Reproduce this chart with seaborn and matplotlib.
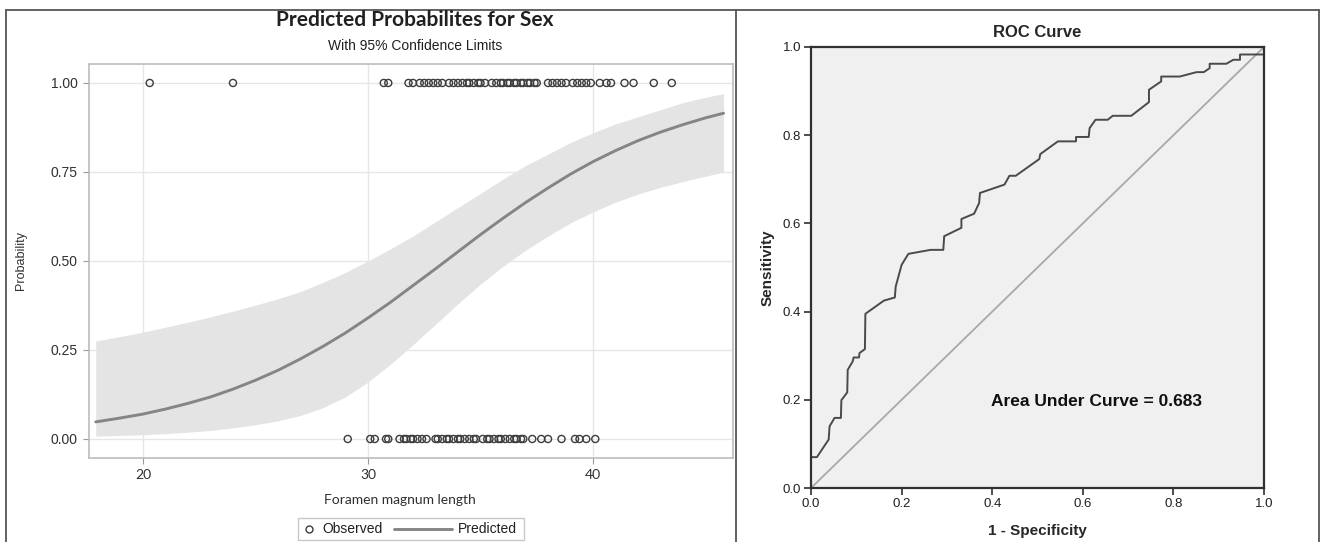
import numpy as np
import pandas as pd
import matplotlib
matplotlib.use("Agg")
import matplotlib.pyplot as plt
from matplotlib.lines import Line2D
from matplotlib.patches import Rectangle
import seaborn as sns

# observed outcomes (Foramen magnum length)
obs_one = [20.3, 24.0, 30.7, 30.9, 31.8, 32.0, 32.3, 32.5, 32.7, 32.9, 33.1, 33.3,
           33.6, 33.8, 34.0, 34.2, 34.4, 34.5, 34.7, 34.9, 35.0, 35.2, 35.5, 35.7,
           35.9, 36.0, 36.2, 36.3, 36.5, 36.6, 36.8, 36.9, 37.1, 37.2, 37.4, 37.5,
           38.0, 38.2, 38.4, 38.6, 38.8, 39.1, 39.3, 39.5, 39.7, 39.9, 40.3, 40.6,
           40.8, 41.4, 41.8, 42.7, 43.5]
obs_zero = [29.1, 30.1, 30.3, 30.8, 30.9, 31.4, 31.6, 31.7, 31.9, 32.0, 32.2, 32.4,
            32.6, 33.0, 33.1, 33.3, 33.5, 33.6, 33.8, 34.0, 34.1, 34.3, 34.5, 34.7,
            34.8, 35.1, 35.3, 35.4, 35.6, 35.8, 35.9, 36.1, 36.3, 36.5, 36.6, 36.8,
            36.9, 37.3, 37.7, 38.0, 38.6, 39.2, 39.4, 39.7, 40.1]

# predicted probability with 95% limits
pred_x = [17.9, 19, 20, 21, 22, 23, 24, 25, 26, 27, 28, 29, 30, 31, 32, 33, 34,
          35, 36, 37, 38, 39, 40, 41, 42, 43, 44, 45, 45.8]
pred_p = [0.048, 0.059, 0.070, 0.084, 0.100, 0.118, 0.140, 0.165, 0.193, 0.225,
          0.260, 0.298, 0.340, 0.384, 0.431, 0.478, 0.526, 0.574, 0.620, 0.664,
          0.705, 0.744, 0.779, 0.810, 0.838, 0.862, 0.883, 0.902, 0.915]
pred_hi = [0.275, 0.288, 0.300, 0.314, 0.328, 0.343, 0.359, 0.376, 0.394, 0.414,
           0.440, 0.468, 0.500, 0.534, 0.570, 0.610, 0.650, 0.690, 0.730, 0.768,
           0.800, 0.833, 0.860, 0.885, 0.905, 0.925, 0.945, 0.960, 0.970]
pred_lo = [0.008, 0.010, 0.012, 0.015, 0.019, 0.024, 0.031, 0.040, 0.051, 0.066,
           0.088, 0.118, 0.160, 0.210, 0.265, 0.322, 0.380, 0.435, 0.485, 0.530,
           0.570, 0.607, 0.638, 0.665, 0.688, 0.707, 0.723, 0.738, 0.750]

# ROC curve vertices
roc_fpr = [0.0, 0.0, 0.013, 0.039, 0.041, 0.052, 0.066, 0.067, 0.080, 0.081, 0.092,
           0.094, 0.106, 0.107, 0.119, 0.120, 0.161, 0.185, 0.187, 0.200, 0.215,
           0.264, 0.292, 0.294, 0.332, 0.332, 0.360, 0.371, 0.373, 0.427, 0.438,
           0.452, 0.504, 0.506, 0.545, 0.585, 0.585, 0.613, 0.615, 0.628, 0.655,
           0.666, 0.707, 0.746, 0.746, 0.773, 0.773, 0.814, 0.851, 0.867, 0.880,
           0.880, 0.917, 0.932, 0.947, 0.947, 1.0, 1.0]
roc_tpr = [0.0, 0.070, 0.070, 0.110, 0.140, 0.159, 0.159, 0.199, 0.217, 0.268, 0.287,
           0.296, 0.296, 0.306, 0.315, 0.395, 0.425, 0.432, 0.457, 0.506, 0.531,
           0.540, 0.540, 0.571, 0.590, 0.610, 0.622, 0.646, 0.669, 0.688, 0.708,
           0.708, 0.746, 0.757, 0.786, 0.786, 0.796, 0.796, 0.816, 0.835, 0.835,
           0.844, 0.844, 0.875, 0.903, 0.922, 0.933, 0.933, 0.943, 0.943, 0.952,
           0.962, 0.962, 0.971, 0.971, 0.983, 0.983, 1.0]
auc = 0.683

sns.set_theme(style="white")
plt.rcParams['font.family'] = ['Liberation Sans', 'DejaVu Sans']

fig = plt.figure(figsize=(13.2, 5.42), dpi=100)

# ---- left panel: predicted probabilities
ax1 = fig.add_axes([0.0674, 0.155, 0.4879, 0.727])
ax1.set_facecolor('white')
ax1.fill_between(pred_x, pred_lo, pred_hi, color='#e4e4e4', lw=0, zorder=1)
sns.lineplot(x=pred_x, y=pred_p, ax=ax1, color='#858585', lw=2.1, zorder=3)
obs = pd.DataFrame({'x': obs_one + obs_zero,
                    'y': [1.0] * len(obs_one) + [0.0] * len(obs_zero)})
sns.scatterplot(data=obs, x='x', y='y', ax=ax1, marker='o', s=26,
                facecolor='none', edgecolor='#3c3c3c', linewidth=1.0, zorder=4)
ax1.set_xlim(17.6, 46.22)
ax1.set_ylim(-0.0534, 1.0534)
ax1.set_xticks([20, 30, 40])
ax1.set_yticks([0, 0.25, 0.5, 0.75, 1.0])
ax1.set_yticklabels(['0.00', '0.25', '0.50', '0.75', '1.00'])
ax1.grid(True, color='#e6e6e6', lw=1.0, zorder=0)
ax1.set_axisbelow(True)
for s in ax1.spines.values():
    s.set_color('#bcbcbc')
    s.set_linewidth(1.2)
ax1.tick_params(axis='both', direction='out', length=4, width=0.8, color='#9a9a9a',
                labelsize=10, labelcolor='#303030', pad=4, bottom=True, left=True)
for lab in ax1.get_xticklabels():
    lab.set_family('Lato')
    lab.set_fontsize(10)
ax1.set_xlabel('')
ax1.set_ylabel('Probability', fontsize=9, color='#303030')
ax1.yaxis.set_label_coords(-0.096, 0.5)

# legend box below the plot
fig.add_artist(Rectangle((298 / 1320, 1 - 540 / 542), 226 / 1320, 22 / 542,
                         transform=fig.transFigure, facecolor='white',
                         edgecolor='#c8c8c8', lw=1.0))
fig.add_artist(Line2D([309 / 1320], [0.024], marker='o', ls='none', markersize=5,
                      markerfacecolor='none', markeredgecolor='#3c3c3c',
                      markeredgewidth=1.0, transform=fig.transFigure))
fig.text(322 / 1320, 0.024, 'Observed', ha='left', va='center', fontsize=10,
         color='#202020')
fig.add_artist(Line2D([394 / 1320, 452 / 1320], [0.024, 0.024], color='#858585',
                      lw=2.1, transform=fig.transFigure))
fig.text(458 / 1320, 0.024, 'Predicted', ha='left', va='center', fontsize=10,
         color='#202020')

fig.text(0.3144, 0.964, 'Predicted Probabilites for Sex', ha='center', va='center',
         fontsize=15, fontweight='bold', family='Lato', color='#202020')
fig.text(0.3144, 0.915, 'With 95% Confidence Limits', ha='center', va='center',
         fontsize=10, color='#202020')
fig.text(0.303, 0.077, 'Foramen magnum length', ha='center', va='center',
         fontsize=10, family='Lato', color='#303030')

# ---- right panel: ROC curve
ax2 = fig.add_axes([0.6144, 0.0996, 0.3432, 0.8137])
ax2.set_facecolor('#f0f0f0')
sns.lineplot(x=[0, 1], y=[0, 1], ax=ax2, color='#a8a8a8', lw=1.3)
roc = pd.DataFrame({'fpr': roc_fpr, 'tpr': roc_tpr})
sns.lineplot(data=roc, x='fpr', y='tpr', ax=ax2, sort=False, estimator=None,
             color='#4a4a4a', lw=1.4)
ax2.set_xlim(0, 1)
ax2.set_ylim(0, 1)
ticks = np.arange(0, 1.01, 0.2)
ax2.set_xticks(ticks)
ax2.set_yticks(ticks)
ax2.set_xticklabels([f'{v:.1f}' for v in ticks])
ax2.set_yticklabels([f'{v:.1f}' for v in ticks])
for s in ax2.spines.values():
    s.set_color('#303030')
    s.set_linewidth(1.6)
ax2.tick_params(axis='both', direction='out', length=5, width=1.2, color='#303030',
                labelsize=9.5, labelcolor='#202020', pad=2, bottom=True, left=True)
ax2.set_xlabel('1 - Specificity', fontsize=11, fontweight='bold', labelpad=10)
ax2.set_ylabel('Sensitivity', fontsize=11, fontweight='bold', labelpad=6)
ax2.set_title('ROC Curve', fontsize=12, fontweight='bold', pad=7)
ax2.text(0.63, 0.197, f'Area Under Curve = {auc:.3f}', ha='center', va='center',
         fontsize=12.5, fontweight='bold', color='#101010')

# ---- panel borders
bc = '#555555'
for (xs, ys) in [([6, 1319], [10, 10]), ([6, 6], [10, 542]),
                 ([736, 736], [10, 542]), ([1319, 1319], [10, 542])]:
    fig.add_artist(Line2D([x / 1320 for x in xs], [1 - y / 542 for y in ys],
                          color=bc, lw=1.3, transform=fig.transFigure))

fig.savefig('out.png', dpi=100)
